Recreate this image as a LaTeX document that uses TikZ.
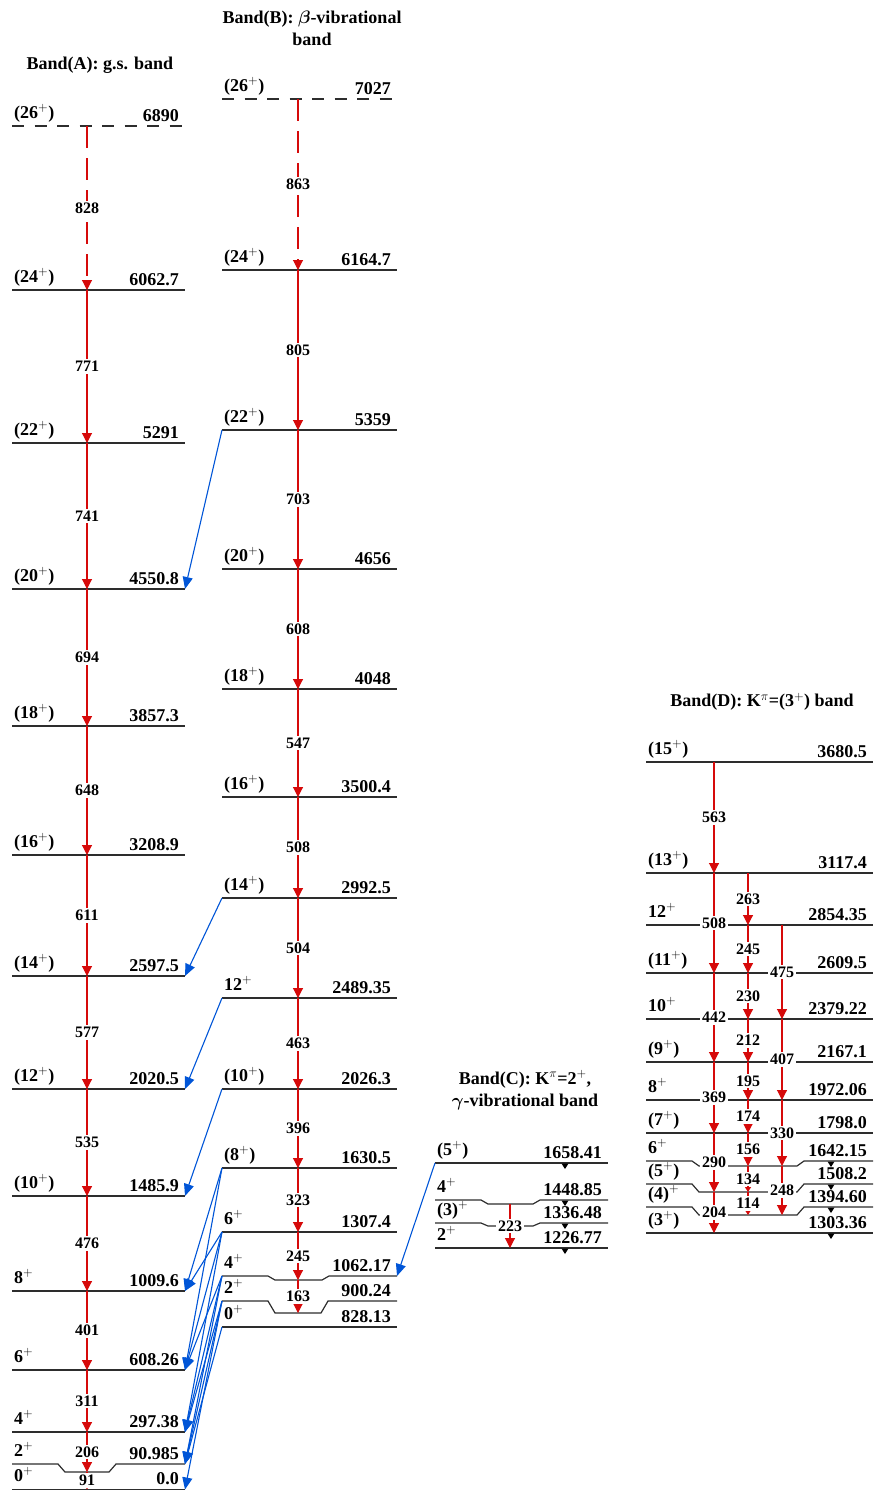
\RequirePackage{fix-cm}
\documentclass[tikz,border=0pt]{standalone}
\usepackage{fontspec}
\setmainfont{Liberation Serif}
\usetikzlibrary{arrows.meta}

\definecolor{gred}{RGB}{214,10,10}
\definecolor{iblue}{RGB}{0,85,215}
\definecolor{levc}{RGB}{45,45,45}

\newcommand\lvfont{\fontsize{18}{22}\selectfont\bfseries}
\newcommand\gfont{\fontsize{16}{17}\selectfont\bfseries}

\tikzset{
  lvline/.style={draw=levc, line width=1.2pt},
  dashlv/.style={lvline, dash pattern=on 12pt off 10.5pt},
  spinlab/.style={anchor=base west, inner sep=0pt, font=\lvfont},
  enlab/.style={anchor=base east, inner sep=0pt, font=\lvfont},
  gam/.style={draw=gred, color=gred, line width=1.1pt, -{Triangle[length=10pt,width=10pt]}},
  gamdash/.style={gam, dash pattern=on 22pt off 10pt},
  gsmall/.style={draw=gred, color=gred, line width=1.1pt, -{Triangle[length=5pt,width=6pt]}},
  glab/.style={fill=white, text=black, font=\gfont, inner xsep=2pt, inner ysep=2pt},
  inter/.style={draw=iblue, color=iblue, line width=1.1pt, -{Triangle[length=12pt,width=10pt]}},
  title/.style={font=\lvfont, align=center, inner sep=0pt},
}

% level: [style] name, left x, right x, y, spin, energy
\newcommand\lev[7][lvline]{%
  \draw[#1] (#3,#5) coordinate (#2) -- (#4,#5) coordinate (#2-r);
  \node[spinlab] (#2-s) at (#3+2,#5-8) {#6};
  \node[enlab] (#2-e) at (#4-6,#5-5) {#7};}

% level with a dip: name, left x, right x, y, dip y, dip end x, spin, energy
\newcommand\nlev[8]{%
  \draw[lvline] (#2,#4) coordinate (#1) -- (#2+46,#4) -- (#2+53,#5) coordinate (#1-n)
     -- (#6,#5) -- (#6+7,#4) -- (#3,#4) coordinate (#1-r);
  \node[spinlab] (#1-s) at (#2+2,#4-8) {#7};
  \node[enlab] (#1-e) at (#3-6,#4-5) {#8};}

% gamma transition: [style] column, from level, to level, energy
\newcommand\gline[5][gam]{%
  \draw[#1] (#2 |- #3) -- (#2 |- #4) node[midway,glab] (#3-#4) {#5};}

% small down marks below a level
\newcommand\dmark[2]{\fill[black] (#1-3.5,#2+0.5) -- (#1+3.5,#2+0.5) -- (#1,#2+6) -- cycle;}

\begin{document}
\begin{tikzpicture}[x=1pt,y=-1pt]
\useasboundingbox (0,0) rectangle (873,1491);

% titles
\node[title] (tA) at (100,65) {Band(A): g.s. band};
\node[title] (tB) at (312,28) {Band(B): {\boldmath$\beta$}-vibrational\\band};
\node[title] (tC) at (525,1090) {Band(C): K$^\pi$=2$^+$,\\{\boldmath$\gamma$}-vibrational band};
\node[title] (tD) at (762,702) {Band(D): K$^\pi$=(3$^+$) band};

% arrow columns
\coordinate (colA) at (87,0);
\coordinate (colB) at (298,0);
\coordinate (colC) at (510,0);
\coordinate (colD1) at (714,0);
\coordinate (colD2) at (748,0);
\coordinate (colD3) at (782,0);

% band A
\lev[dashlv]{a26}{12}{185}{126}{(26$^+$)}{6890}
\lev{a24}{12}{185}{290}{(24$^+$)}{6062.7}
\lev{a22}{12}{185}{443}{(22$^+$)}{5291}
\lev{a20}{12}{185}{589}{(20$^+$)}{4550.8}
\lev{a18}{12}{185}{726}{(18$^+$)}{3857.3}
\lev{a16}{12}{185}{855}{(16$^+$)}{3208.9}
\lev{a14}{12}{185}{976}{(14$^+$)}{2597.5}
\lev{a12}{12}{185}{1089}{(12$^+$)}{2020.5}
\lev{a10}{12}{185}{1196}{(10$^+$)}{1485.9}
\lev{a8}{12}{185}{1291}{8$^+$}{1009.6}
\lev{a6}{12}{185}{1370}{6$^+$}{608.26}
\lev{a4}{12}{185}{1432}{4$^+$}{297.38}
\nlev{a2}{12}{185}{1464}{1472}{109}{2$^+$}{90.985}
\lev{a0}{12}{185}{1489.5}{0$^+$}{0.0}

% band B
\lev[dashlv]{b26}{222}{397}{99}{(26$^+$)}{7027}
\lev{b24}{222}{397}{270}{(24$^+$)}{6164.7}
\lev{b22}{222}{397}{430}{(22$^+$)}{5359}
\lev{b20}{222}{397}{569}{(20$^+$)}{4656}
\lev{b18}{222}{397}{689}{(18$^+$)}{4048}
\lev{b16}{222}{397}{797}{(16$^+$)}{3500.4}
\lev{b14}{222}{397}{898}{(14$^+$)}{2992.5}
\lev{b12}{222}{397}{998}{12$^+$}{2489.35}
\lev{b10}{222}{397}{1089}{(10$^+$)}{2026.3}
\lev{b8}{222}{397}{1168}{(8$^+$)}{1630.5}
\lev{b6}{222}{397}{1232}{6$^+$}{1307.4}
\nlev{b4}{222}{397}{1276}{1280}{322}{4$^+$}{1062.17}
\nlev{b2}{222}{397}{1301}{1313}{321}{2$^+$}{900.24}
\lev{b0}{222}{397}{1327}{0$^+$}{828.13}

% band C
\lev{c5}{435}{608}{1163}{(5$^+$)}{1658.41}
\nlev{c4}{435}{608}{1200}{1204}{533}{4$^+$}{1448.85}
\nlev{c3}{435}{608}{1223}{1226}{533}{(3)$^+$}{1336.48}
\lev{c2}{435}{608}{1248}{2$^+$}{1226.77}

% band D
\lev{d15}{646}{873}{762}{(15$^+$)}{3680.5}
\lev{d13}{646}{873}{873}{(13$^+$)}{3117.4}
\lev{d12}{646}{873}{925}{12$^+$}{2854.35}
\lev{d11}{646}{873}{973}{(11$^+$)}{2609.5}
\lev{d10}{646}{873}{1019}{10$^+$}{2379.22}
\lev{d9}{646}{873}{1062}{(9$^+$)}{2167.1}
\lev{d8}{646}{873}{1100}{8$^+$}{1972.06}
\lev{d7}{646}{873}{1133}{(7$^+$)}{1798.0}
\nlev{d6}{646}{873}{1161}{1166}{797}{6$^+$}{1642.15}
\nlev{d5}{646}{873}{1184}{1192}{797}{(5$^+$)}{1508.2}
\nlev{d4}{646}{873}{1207}{1215}{797}{(4)$^+$}{1394.60}
\lev{d3}{646}{873}{1233}{(3$^+$)}{1303.36}

% marks of transitions leaving bands C and D
\dmark{565}{1163}\dmark{565}{1200}\dmark{565}{1223}\dmark{565}{1248}
\dmark{831}{1161}\dmark{831}{1184}\dmark{831}{1207}\dmark{831}{1233}

% in-band transitions, band A
\gline[gamdash]{colA}{a26}{a24}{828}
\gline{colA}{a24}{a22}{771}
\gline{colA}{a22}{a20}{741}
\gline{colA}{a20}{a18}{694}
\gline{colA}{a18}{a16}{648}
\gline{colA}{a16}{a14}{611}
\gline{colA}{a14}{a12}{577}
\gline{colA}{a12}{a10}{535}
\gline{colA}{a10}{a8}{476}
\gline{colA}{a8}{a6}{401}
\gline{colA}{a6}{a4}{311}
\gline{colA}{a4}{a2-n}{206}
\gline{colA}{a2-n}{a0}{91}

% band B
\gline[gamdash]{colB}{b26}{b24}{863}
\gline{colB}{b24}{b22}{805}
\gline{colB}{b22}{b20}{703}
\gline{colB}{b20}{b18}{608}
\gline{colB}{b18}{b16}{547}
\gline{colB}{b16}{b14}{508}
\gline{colB}{b14}{b12}{504}
\gline{colB}{b12}{b10}{463}
\gline{colB}{b10}{b8}{396}
\gline{colB}{b8}{b6}{323}
\gline{colB}{b6}{b4-n}{245}
\gline{colB}{b4-n}{b2-n}{163}

% band C
\gline{colC}{c4-n}{c2}{223}

% band D
\gline{colD1}{d15}{d13}{563}
\gline{colD1}{d13}{d11}{508}
\gline{colD1}{d11}{d9}{442}
\gline{colD1}{d9}{d7}{369}
\gline{colD1}{d7}{d5-n}{290}
\gline{colD1}{d5-n}{d3}{204}
\gline{colD2}{d13}{d12}{263}
\gline{colD2}{d12}{d11}{245}
\gline{colD2}{d11}{d10}{230}
\gline{colD2}{d10}{d9}{212}
\gline{colD2}{d9}{d8}{195}
\gline{colD2}{d8}{d7}{174}
\gline{colD2}{d7}{d6-n}{156}
\gline[gsmall]{colD2}{d6-n}{d5-n}{134}
\gline[gsmall]{colD2}{d5-n}{d4-n}{114}
\gline{colD3}{d12}{d10}{475}
\gline{colD3}{d10}{d8}{407}
\gline{colD3}{d8}{d6-n}{330}
\gline{colD3}{d6-n}{d4-n}{248}

% inter-band transitions
\draw[inter] (b22) -- (a20-r);
\draw[inter] (b14) -- (a14-r);
\draw[inter] (b12) -- (a12-r);
\draw[inter] (b10) -- (a10-r);
\draw[inter] (b8) -- (a8-r);
\draw[inter] (b8) -- (a6-r);
\draw[inter] (b6) -- (a8-r);
\draw[inter] (b6) -- (a6-r);
\draw[inter] (b6) -- (a4-r);
\draw[inter] (b4) -- (a6-r);
\draw[inter] (b4) -- (a4-r);
\draw[inter] (b4) -- (a2-r);
\draw[inter] (b2) -- (a4-r);
\draw[inter] (b2) -- (a2-r);
\draw[inter] (b2) -- (a0-r);
\draw[inter] (b0) -- (a2-r);
\draw[inter] (c5) -- (b4-r);
\end{tikzpicture}
\end{document}
